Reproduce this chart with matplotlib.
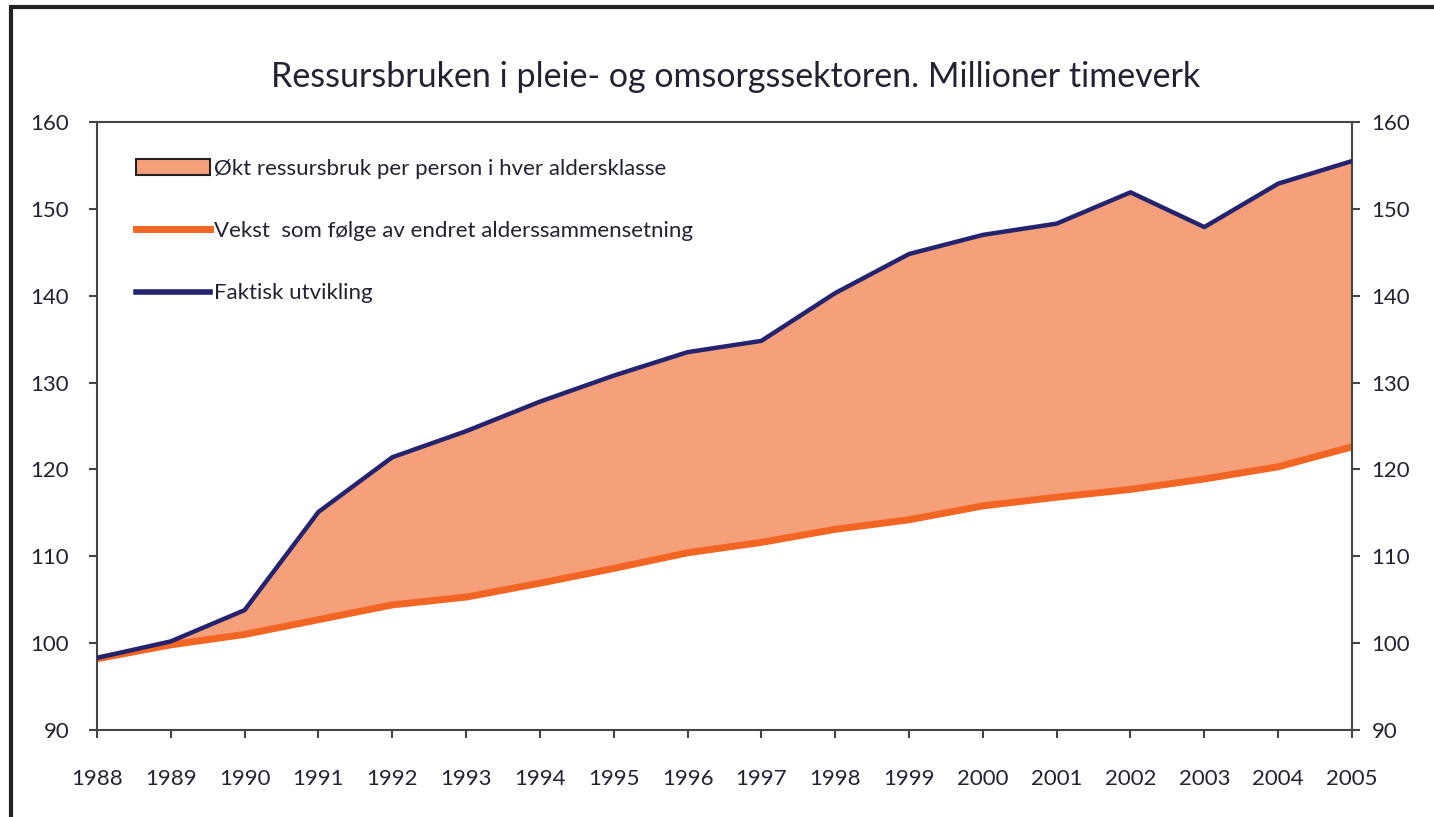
import matplotlib
matplotlib.use('Agg')
import matplotlib.pyplot as plt
from matplotlib.patches import Patch, Rectangle
from matplotlib.lines import Line2D

plt.rcParams['font.family'] = ['Lato', 'DejaVu Sans']

years = list(range(1988, 2006))
faktisk = [98.3, 100.2, 103.8, 115.1, 121.4, 124.4, 127.8, 130.8, 133.5, 134.8,
           140.3, 144.8, 147.0, 148.3, 151.9, 147.9, 152.9, 155.5]
alderssammensetning = [98.2, 99.8, 101.0, 102.7, 104.4, 105.3, 106.9, 108.6, 110.4, 111.6,
                       113.1, 114.2, 115.8, 116.8, 117.7, 118.9, 120.3, 122.6]
yticks = [90, 100, 110, 120, 130, 140, 150, 160]

title = "Ressursbruken i pleie- og omsorgssektoren. Millioner timeverk"
labels = ["Økt ressursbruk per person i hver aldersklasse",
          "Vekst  som følge av endret alderssammensetning",
          "Faktisk utvikling"]

FILL = '#F59F7B'
ORANGE = '#F26522'
NAVY = '#23236F'
TEXT = '#222233'
SPINE = '#444444'

fig = plt.figure(figsize=(14.34, 8.17), dpi=100)
ax = fig.add_axes([0.0676, 0.1065, 0.8752, 0.7442])

ax.fill_between(years, alderssammensetning, faktisk, color=FILL, lw=0, zorder=1)
ax.plot(years, alderssammensetning, color=ORANGE, lw=5, zorder=2, solid_capstyle='butt')
ax.plot(years, faktisk, color=NAVY, lw=3.2, zorder=3, solid_capstyle='butt')

ax.set_xlim(1988, 2005)
ax.set_ylim(90, 160)
ax.set_xticks(years)
ax.set_yticks(yticks)
ax.tick_params(axis='both', direction='out', length=6, width=1.5, color=SPINE,
               labelsize=16, labelcolor=TEXT)
ax.tick_params(axis='x', pad=22)
ax.tick_params(axis='y', pad=14)
for s in ax.spines.values():
    s.set_color(SPINE)
    s.set_linewidth(1.5)

ax2 = ax.twinx()
ax2.set_ylim(90, 160)
ax2.set_yticks(yticks)
ax2.tick_params(axis='y', direction='out', length=6, width=1.5, color=SPINE,
                labelsize=16, labelcolor=TEXT, pad=8)
for s in ax2.spines.values():
    s.set_visible(False)

handles = [Patch(facecolor=FILL, edgecolor='#222222', linewidth=1.5),
           Line2D([], [], color=ORANGE, lw=5),
           Line2D([], [], color=NAVY, lw=4)]
leg = ax.legend(handles, labels, loc='upper left', bbox_to_anchor=(0.0154, 0.972),
                frameon=False, fontsize=16, labelspacing=1.9, handlelength=3.3,
                handletextpad=0.2, handleheight=0.75)
for t in leg.get_texts():
    t.set_color(TEXT)

fig.text(0.513, 0.906, title, ha='center', va='center', fontsize=24.5, color=TEXT)

# outer frame
fig.patches.append(Rectangle((11 / 1434, -0.05), 1.1, 1 - 5 / 817 + 0.05 - 0.002,
                             transform=fig.transFigure, fill=False,
                             edgecolor='#222222', lw=3, zorder=0))

fig.savefig('out.png', dpi=100)
